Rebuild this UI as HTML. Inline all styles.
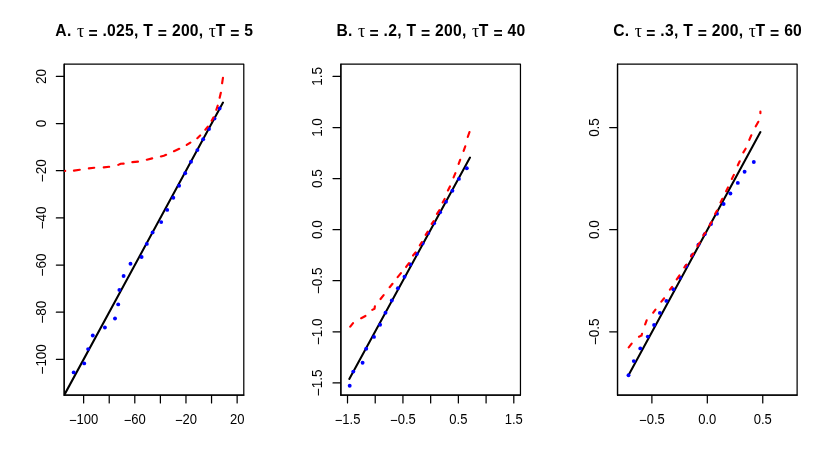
<!DOCTYPE html>
<html><head><meta charset="utf-8"><title>plot</title>
<style>html,body{margin:0;padding:0;background:#fff}svg{display:block;will-change:transform}text{font-family:"Liberation Sans",sans-serif;fill:#000}</style></head><body>
<svg width="830" height="475" viewBox="0 0 830 475">
<rect width="830" height="475" fill="#fff"/>
<g id="p0">
<text x="154.29" y="36.4" text-anchor="middle" font-size="15.66" font-weight="bold" letter-spacing="0.27" word-spacing="0.05" xml:space="preserve"><tspan>A. </tspan><tspan dx="0.70" dy="0.80" font-family="Liberation Serif" font-weight="normal" font-size="18">τ</tspan><tspan dx="-0.70" dy="-0.80"> </tspan><tspan dy="2.80">=</tspan><tspan dy="-2.80"> .025, T </tspan><tspan dy="2.80">=</tspan><tspan dy="-2.80"> 200, </tspan><tspan dx="0.70" dy="0.80" font-family="Liberation Serif" font-weight="normal" font-size="18">τ</tspan><tspan dx="-0.70" dy="-0.80">T </tspan><tspan dy="2.80">=</tspan><tspan dy="-2.80"> 5</tspan></text>
<rect x="64.19" y="64.19" width="179.6" height="330.96" fill="none" stroke="#000" stroke-width="1.235" stroke-linejoin="round"/>
<path d="M64.19 395.15H243.79M83.63 395.15v7.83M109.22 395.15v7.83M134.80 395.15v7.83M160.39 395.15v7.83M185.97 395.15v7.83M211.55 395.15v7.83M237.14 395.15v7.83" stroke="#000" stroke-width="1.235" stroke-linecap="round" fill="none"/>
<text transform="translate(83.63 423.7) scale(1 1.1)" text-anchor="middle" font-size="13.05"><tspan dy="1.0">−</tspan><tspan dy="-1.0">100</tspan></text>
<text transform="translate(134.80 423.7) scale(1 1.1)" text-anchor="middle" font-size="13.05"><tspan dy="1.0">−</tspan><tspan dy="-1.0">60</tspan></text>
<text transform="translate(185.97 423.7) scale(1 1.1)" text-anchor="middle" font-size="13.05"><tspan dy="1.0">−</tspan><tspan dy="-1.0">20</tspan></text>
<text transform="translate(237.14 423.7) scale(1 1.1)" text-anchor="middle" font-size="13.05">20</text>
<path d="M64.19 395.15V64.19M64.19 359.32h-7.83M64.19 312.17h-7.83M64.19 265.03h-7.83M64.19 217.88h-7.83M64.19 170.74h-7.83M64.19 123.59h-7.83M64.19 76.45h-7.83" stroke="#000" stroke-width="1.235" stroke-linecap="round" fill="none"/>
<text transform="translate(45.59 359.32) rotate(-90) scale(1.03 1.1)" text-anchor="middle" font-size="13.05"><tspan dy="1.0">−</tspan><tspan dy="-1.0">100</tspan></text>
<text transform="translate(45.59 312.17) rotate(-90) scale(1.03 1.1)" text-anchor="middle" font-size="13.05"><tspan dy="1.0">−</tspan><tspan dy="-1.0">80</tspan></text>
<text transform="translate(45.59 265.03) rotate(-90) scale(1.03 1.1)" text-anchor="middle" font-size="13.05"><tspan dy="1.0">−</tspan><tspan dy="-1.0">60</tspan></text>
<text transform="translate(45.59 217.88) rotate(-90) scale(1.03 1.1)" text-anchor="middle" font-size="13.05"><tspan dy="1.0">−</tspan><tspan dy="-1.0">40</tspan></text>
<text transform="translate(45.59 170.74) rotate(-90) scale(1.03 1.1)" text-anchor="middle" font-size="13.05"><tspan dy="1.0">−</tspan><tspan dy="-1.0">20</tspan></text>
<text transform="translate(45.59 123.59) rotate(-90) scale(1.03 1.1)" text-anchor="middle" font-size="13.05">0</text>
<text transform="translate(45.59 76.45) rotate(-90) scale(1.03 1.1)" text-anchor="middle" font-size="13.05">20</text>
<clipPath id="c0"><rect x="64.19" y="64.19" width="179.6" height="330.96"/></clipPath>
<g clip-path="url(#c0)">
<line x1="64.19" y1="395.15" x2="223.0" y2="102.6" stroke="#000" stroke-width="2.05" stroke-linecap="round"/>
<circle cx="219.6" cy="108.5" r="1.95" fill="#00f"/>
<circle cx="214.5" cy="118.6" r="1.95" fill="#00f"/>
<circle cx="209" cy="129" r="1.95" fill="#00f"/>
<circle cx="203.2" cy="139.3" r="1.95" fill="#00f"/>
<circle cx="197.4" cy="150.1" r="1.95" fill="#00f"/>
<circle cx="191" cy="161.7" r="1.95" fill="#00f"/>
<circle cx="185.2" cy="173.3" r="1.95" fill="#00f"/>
<circle cx="179.1" cy="185.7" r="1.95" fill="#00f"/>
<circle cx="173.3" cy="197.8" r="1.95" fill="#00f"/>
<circle cx="167.2" cy="209.9" r="1.95" fill="#00f"/>
<circle cx="161.2" cy="222.1" r="1.95" fill="#00f"/>
<circle cx="152.6" cy="232.4" r="1.95" fill="#00f"/>
<circle cx="146.8" cy="243.9" r="1.95" fill="#00f"/>
<circle cx="141.6" cy="257" r="1.95" fill="#00f"/>
<circle cx="130.5" cy="263.7" r="1.95" fill="#00f"/>
<circle cx="123.6" cy="276" r="1.95" fill="#00f"/>
<circle cx="119.4" cy="289.9" r="1.95" fill="#00f"/>
<circle cx="118.2" cy="304.4" r="1.95" fill="#00f"/>
<circle cx="115" cy="318.5" r="1.95" fill="#00f"/>
<circle cx="104.9" cy="327.5" r="1.95" fill="#00f"/>
<circle cx="92.8" cy="335.5" r="1.95" fill="#00f"/>
<circle cx="88.1" cy="349.1" r="1.95" fill="#00f"/>
<circle cx="84.2" cy="363.4" r="1.95" fill="#00f"/>
<circle cx="73.7" cy="372.4" r="1.95" fill="#00f"/>
<path d="M64.15 170.99L65.20 170.90M73.94 170.59L79.76 169.71M88.85 168.32L94.25 167.78M103.75 167.41L109.15 166.79M118.29 164.89L120.70 163.80L123.65 163.56M132.35 162.14L137.95 161.66M146.83 159.72L152.17 158.38M160.93 156.42L163.80 155.70L166.10 154.78M173.99 151.19L179.21 148.81M186.72 144.98L190.38 142.52M197.34 138.17L200.16 135.43M205.37 129.72L207.83 126.68M211.66 120.74L213.44 117.46M216.33 109.78L217.67 105.72M219.67 97.77L220.83 92.73M222.11 83.26L222.94 77.84" fill="none" stroke="#f00" stroke-width="2.15" stroke-linecap="round" stroke-linejoin="round"/>
</g>
</g>
<g id="p1">
<text x="430.96" y="36.4" text-anchor="middle" font-size="15.66" font-weight="bold" letter-spacing="0.27" word-spacing="0.05" xml:space="preserve"><tspan>B. </tspan><tspan dx="0.70" dy="0.80" font-family="Liberation Serif" font-weight="normal" font-size="18">τ</tspan><tspan dx="-0.70" dy="-0.80"> </tspan><tspan dy="2.80">=</tspan><tspan dy="-2.80"> .2, T </tspan><tspan dy="2.80">=</tspan><tspan dy="-2.80"> 200, </tspan><tspan dx="0.70" dy="0.80" font-family="Liberation Serif" font-weight="normal" font-size="18">τ</tspan><tspan dx="-0.70" dy="-0.80">T </tspan><tspan dy="2.80">=</tspan><tspan dy="-2.80"> 40</tspan></text>
<rect x="340.86" y="64.19" width="179.6" height="330.96" fill="none" stroke="#000" stroke-width="1.235" stroke-linejoin="round"/>
<path d="M340.86 395.15H520.46M347.51 395.15v7.83M375.22 395.15v7.83M402.94 395.15v7.83M430.66 395.15v7.83M458.37 395.15v7.83M486.09 395.15v7.83M513.80 395.15v7.83" stroke="#000" stroke-width="1.235" stroke-linecap="round" fill="none"/>
<text transform="translate(347.51 423.7) scale(1 1.1)" text-anchor="middle" font-size="13.05"><tspan dy="1.0">−</tspan><tspan dy="-1.0">1.5</tspan></text>
<text transform="translate(402.94 423.7) scale(1 1.1)" text-anchor="middle" font-size="13.05"><tspan dy="1.0">−</tspan><tspan dy="-1.0">0.5</tspan></text>
<text transform="translate(458.37 423.7) scale(1 1.1)" text-anchor="middle" font-size="13.05">0.5</text>
<text transform="translate(513.80 423.7) scale(1 1.1)" text-anchor="middle" font-size="13.05">1.5</text>
<path d="M340.86 395.15V64.19M340.86 382.89h-7.83M340.86 331.82h-7.83M340.86 280.74h-7.83M340.86 229.67h-7.83M340.86 178.60h-7.83M340.86 127.52h-7.83M340.86 76.45h-7.83" stroke="#000" stroke-width="1.235" stroke-linecap="round" fill="none"/>
<text transform="translate(322.26 382.89) rotate(-90) scale(1.03 1.1)" text-anchor="middle" font-size="13.05"><tspan dy="1.0">−</tspan><tspan dy="-1.0">1.5</tspan></text>
<text transform="translate(322.26 331.82) rotate(-90) scale(1.03 1.1)" text-anchor="middle" font-size="13.05"><tspan dy="1.0">−</tspan><tspan dy="-1.0">1.0</tspan></text>
<text transform="translate(322.26 280.74) rotate(-90) scale(1.03 1.1)" text-anchor="middle" font-size="13.05"><tspan dy="1.0">−</tspan><tspan dy="-1.0">0.5</tspan></text>
<text transform="translate(322.26 229.67) rotate(-90) scale(1.03 1.1)" text-anchor="middle" font-size="13.05">0.0</text>
<text transform="translate(322.26 178.60) rotate(-90) scale(1.03 1.1)" text-anchor="middle" font-size="13.05">0.5</text>
<text transform="translate(322.26 127.52) rotate(-90) scale(1.03 1.1)" text-anchor="middle" font-size="13.05">1.0</text>
<text transform="translate(322.26 76.45) rotate(-90) scale(1.03 1.1)" text-anchor="middle" font-size="13.05">1.5</text>
<clipPath id="c1"><rect x="340.86" y="64.19" width="179.6" height="330.96"/></clipPath>
<g clip-path="url(#c1)">
<line x1="349.3" y1="378.9" x2="470.0" y2="157.6" stroke="#000" stroke-width="2.05" stroke-linecap="round"/>
<circle cx="466.8" cy="168.2" r="1.95" fill="#00f"/>
<circle cx="458.9" cy="178.9" r="1.95" fill="#00f"/>
<circle cx="452.4" cy="190.7" r="1.95" fill="#00f"/>
<circle cx="446" cy="201.7" r="1.95" fill="#00f"/>
<circle cx="440.1" cy="212.3" r="1.95" fill="#00f"/>
<circle cx="434.1" cy="223.2" r="1.95" fill="#00f"/>
<circle cx="428.3" cy="233.1" r="1.95" fill="#00f"/>
<circle cx="422.6" cy="243.5" r="1.95" fill="#00f"/>
<circle cx="416.8" cy="254" r="1.95" fill="#00f"/>
<circle cx="410.3" cy="264.5" r="1.95" fill="#00f"/>
<circle cx="404.5" cy="276.8" r="1.95" fill="#00f"/>
<circle cx="397.9" cy="288.3" r="1.95" fill="#00f"/>
<circle cx="391.8" cy="300.5" r="1.95" fill="#00f"/>
<circle cx="385.5" cy="312.7" r="1.95" fill="#00f"/>
<circle cx="380.1" cy="324.8" r="1.95" fill="#00f"/>
<circle cx="374" cy="336.9" r="1.95" fill="#00f"/>
<circle cx="366.2" cy="348.8" r="1.95" fill="#00f"/>
<circle cx="362.6" cy="362.7" r="1.95" fill="#00f"/>
<circle cx="353.3" cy="371.6" r="1.95" fill="#00f"/>
<circle cx="349.7" cy="385.7" r="1.95" fill="#00f"/>
<path d="M350.27 326.71L353.03 323.19M361.16 318.24L365.44 315.96M372.28 309.87L374.50 308.80L374.89 306.24M380.56 299.01L383.64 295.09M389.68 287.22L392.52 283.78M397.68 277.12L400.92 273.18M406.14 266.99L408.96 263.11M413.07 255.51L415.53 252.39M419.81 245.27L421.89 242.03M425.70 234.86L427.80 231.54M431.72 223.97L433.68 221.03M437.00 213.86L439.30 210.24M442.67 202.44L444.63 198.96M447.94 190.43L449.96 186.47M453.60 177.41L455.40 173.19M458.66 163.89L460.14 159.81M463.65 150.89L465.25 146.31M467.75 136.99L469.45 132.11" fill="none" stroke="#f00" stroke-width="2.15" stroke-linecap="round" stroke-linejoin="round"/>
</g>
</g>
<g id="p2">
<text x="707.62" y="36.4" text-anchor="middle" font-size="15.66" font-weight="bold" letter-spacing="0.27" word-spacing="0.05" xml:space="preserve"><tspan>C. </tspan><tspan dx="0.70" dy="0.80" font-family="Liberation Serif" font-weight="normal" font-size="18">τ</tspan><tspan dx="-0.70" dy="-0.80"> </tspan><tspan dy="2.80">=</tspan><tspan dy="-2.80"> .3, T </tspan><tspan dy="2.80">=</tspan><tspan dy="-2.80"> 200, </tspan><tspan dx="0.70" dy="0.80" font-family="Liberation Serif" font-weight="normal" font-size="18">τ</tspan><tspan dx="-0.70" dy="-0.80">T </tspan><tspan dy="2.80">=</tspan><tspan dy="-2.80"> 60</tspan></text>
<rect x="617.52" y="64.19" width="179.6" height="330.96" fill="none" stroke="#000" stroke-width="1.235" stroke-linejoin="round"/>
<path d="M617.52 395.15H797.12M651.89 395.15v7.83M707.32 395.15v7.83M762.76 395.15v7.83" stroke="#000" stroke-width="1.235" stroke-linecap="round" fill="none"/>
<text transform="translate(651.89 423.7) scale(1 1.1)" text-anchor="middle" font-size="13.05"><tspan dy="1.0">−</tspan><tspan dy="-1.0">0.5</tspan></text>
<text transform="translate(707.32 423.7) scale(1 1.1)" text-anchor="middle" font-size="13.05">0.0</text>
<text transform="translate(762.76 423.7) scale(1 1.1)" text-anchor="middle" font-size="13.05">0.5</text>
<path d="M617.52 395.15V64.19M617.52 331.82h-7.83M617.52 229.67h-7.83M617.52 127.52h-7.83" stroke="#000" stroke-width="1.235" stroke-linecap="round" fill="none"/>
<text transform="translate(598.92 331.82) rotate(-90) scale(1.03 1.1)" text-anchor="middle" font-size="13.05"><tspan dy="1.0">−</tspan><tspan dy="-1.0">0.5</tspan></text>
<text transform="translate(598.92 229.67) rotate(-90) scale(1.03 1.1)" text-anchor="middle" font-size="13.05">0.0</text>
<text transform="translate(598.92 127.52) rotate(-90) scale(1.03 1.1)" text-anchor="middle" font-size="13.05">0.5</text>
<clipPath id="c2"><rect x="617.52" y="64.19" width="179.6" height="330.96"/></clipPath>
<g clip-path="url(#c2)">
<line x1="628.5" y1="375.2" x2="760.4" y2="132.1" stroke="#000" stroke-width="2.05" stroke-linecap="round"/>
<circle cx="753.8" cy="162.0" r="1.95" fill="#00f"/>
<circle cx="744.6" cy="171.7" r="1.95" fill="#00f"/>
<circle cx="737.8" cy="182.9" r="1.95" fill="#00f"/>
<circle cx="730.4" cy="193.5" r="1.95" fill="#00f"/>
<circle cx="723.6" cy="204" r="1.95" fill="#00f"/>
<circle cx="717" cy="213.8" r="1.95" fill="#00f"/>
<circle cx="711" cy="224" r="1.95" fill="#00f"/>
<circle cx="704.7" cy="234.3" r="1.95" fill="#00f"/>
<circle cx="698.5" cy="244.6" r="1.95" fill="#00f"/>
<circle cx="692.2" cy="255.2" r="1.95" fill="#00f"/>
<circle cx="686.4" cy="266" r="1.95" fill="#00f"/>
<circle cx="680" cy="277.8" r="1.95" fill="#00f"/>
<circle cx="673.3" cy="289.3" r="1.95" fill="#00f"/>
<circle cx="666.4" cy="300.9" r="1.95" fill="#00f"/>
<circle cx="659.9" cy="312.9" r="1.95" fill="#00f"/>
<circle cx="654.1" cy="325" r="1.95" fill="#00f"/>
<circle cx="647.8" cy="336.6" r="1.95" fill="#00f"/>
<circle cx="640.3" cy="348.4" r="1.95" fill="#00f"/>
<circle cx="633.8" cy="361.1" r="1.95" fill="#00f"/>
<circle cx="628.5" cy="375.2" r="1.95" fill="#00f"/>
<path d="M628.76 347.41L631.64 343.69M638.99 336.70L641.50 335.60L642.00 333.73M645.16 324.39L646.64 320.31M653.24 312.69L655.46 309.61M661.38 301.62L664.12 298.28M669.95 289.60L672.05 286.80M676.73 279.29L679.47 275.41M684.34 267.49L686.46 264.51M691.05 256.49L693.25 253.51M697.41 246.07L699.69 242.63M703.33 235.48L705.37 232.52M709.58 225.35L711.52 222.05M715.07 213.95L717.03 210.55M720.54 202.43L722.36 198.77M726.13 191.22L727.97 187.48M731.84 178.93L733.86 174.87M737.82 165.32L739.68 161.28M743.39 152.36L745.61 148.74M749.30 139.81L751.30 135.29M755.77 126.34L758.33 121.76M760.40 113.25L760.40 111.55" fill="none" stroke="#f00" stroke-width="2.15" stroke-linecap="round" stroke-linejoin="round"/>
</g>
</g>
</svg></body></html>
